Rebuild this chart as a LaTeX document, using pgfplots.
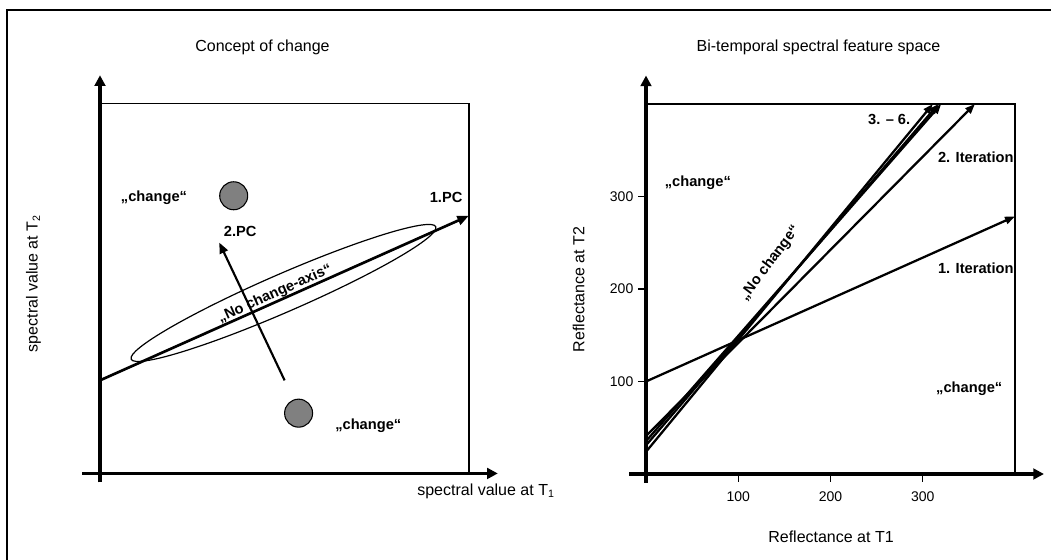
\documentclass[border=0pt]{standalone}
\usepackage{pgfplots}
\pgfplotsset{compat=1.18}
\usetikzlibrary{arrows.meta}
\usepackage{fontspec}
\setmainfont{Liberation Sans}

\begin{document}
\begin{tikzpicture}[x=0.75pt, y=0.75pt,
  txt/.style={font=\fontsize{12}{14}\selectfont},
  lbl/.style={font=\fontsize{11}{13}\selectfont\bfseries},
  axarrow/.style={line width=2.6pt, -{Triangle[length=8pt,width=8pt]}},
  vec/.style={line width=1.7pt, -{Triangle[length=7.5pt,width=5.5pt]}},
]
\useasboundingbox (0,0) rectangle (1051,560);
% outer frame (only top and left edges are in view)
\draw[line width=1.5pt] (7,0) -- (7,550) -- (1051,550);

\node[txt] at (262.5,513) {Concept of change};
\node[txt] at (818.5,513) {Bi-temporal spectral feature space};

\node[txt, rotate=90] at (33.5,276.5) {spectral value at T\textsubscript{2}};
\node[txt] at (486,69) {spectral value at T\textsubscript{1}};
\node[txt, rotate=90] at (578.7,270.4) {Reflectance at T2};
\node[txt] at (831,23.4) {Reflectance at T1};

% --- left: concept of change
\begin{axis}[
  at={(75pt,64.9pt)}, anchor=south west, scale only axis,
  width=276.75pt, height=277.5pt,
  xmin=0, xmax=369, ymin=0, ymax=370,
  ticks=none, axis line style={line width=1.3pt}, clip=false,
]
\draw[line width=0.9pt, rotate around={23.5:(axis cs:183.5,180.5)}]
  (axis cs:183.5,180.5) ellipse [x radius=124.6pt, y radius=14.25pt];
\addplot[line width=2pt, -{Triangle[length=8.5pt,width=7pt]}]
  coordinates {(0,93.1) (368.7,257.6)};
\addplot[line width=1.6pt, -{Triangle[length=8pt,width=6.5pt]}]
  coordinates {(184.6,93.1) (119.3,230.8)};
\addplot[only marks, mark=*, mark size=10.5pt,
  mark options={fill=gray, draw=black, line width=0.8pt}]
  coordinates {(133.7,277.7) (198.6,60.3)};
\draw[axarrow] (axis cs:0,-9) -- (axis cs:0,398.2);
\draw[axarrow] (axis cs:-18,0) -- (axis cs:397.8,0);
\node[lbl] at (axis cs:54,276) {„change“};
\node[lbl] at (axis cs:346.1,276) {1.PC};
\node[lbl] at (axis cs:140.2,242.5) {2.PC};
\node[lbl] at (axis cs:268.3,47.9) {„change“};
\node[lbl, rotate=24] at (axis cs:175,179.5) {„No change-axis“};
\end{axis}

% --- right: bi-temporal feature space
\begin{axis}[
  at={(484.5pt,64.5pt)}, anchor=south west, scale only axis,
  width=276.75pt, height=277.5pt,
  xmin=0, xmax=400, ymin=0, ymax=400,
  xtick={100,200,300}, ytick={100,200,300},
  tick pos=left, tick align=outside,
  major tick length=6pt, tick style={line width=0.9pt, black},
  tick label style={font=\fontsize{10.5}{12}\selectfont},
  xticklabel style={yshift=-4pt},
  /pgf/number format/assume math mode=true,
  axis line style={line width=1.3pt}, clip=false,
]
\addplot[vec] coordinates {(0,100) (400,278.5)};  % 1. Iteration
\addplot[vec] coordinates {(0,41) (356.6,400)};   % 2. Iteration
\addplot[vec] coordinates {(0,35.5) (320,400)};
\addplot[vec] coordinates {(0,31) (317,400)};
\addplot[vec] coordinates {(0,24) (311,400)};
\draw[axarrow] (axis cs:0,-9.7) -- (axis cs:0,430.8);
\draw[axarrow] (axis cs:-18.4,0) -- (axis cs:431.4,0);
\node[lbl] at (axis cs:56.2,314.8) {„change“};
\node[lbl] at (axis cs:263.6,383.8) {3. – 6.};
\node[lbl] at (axis cs:357.5,342) {2. Iteration};
\node[lbl] at (axis cs:357.5,222.3) {1. Iteration};
\node[lbl] at (axis cs:350.4,91.9) {„change“};
\node[lbl, rotate=53] at (axis cs:134.4,228.1) {„No change“};
\end{axis}
\end{tikzpicture}
\end{document}
